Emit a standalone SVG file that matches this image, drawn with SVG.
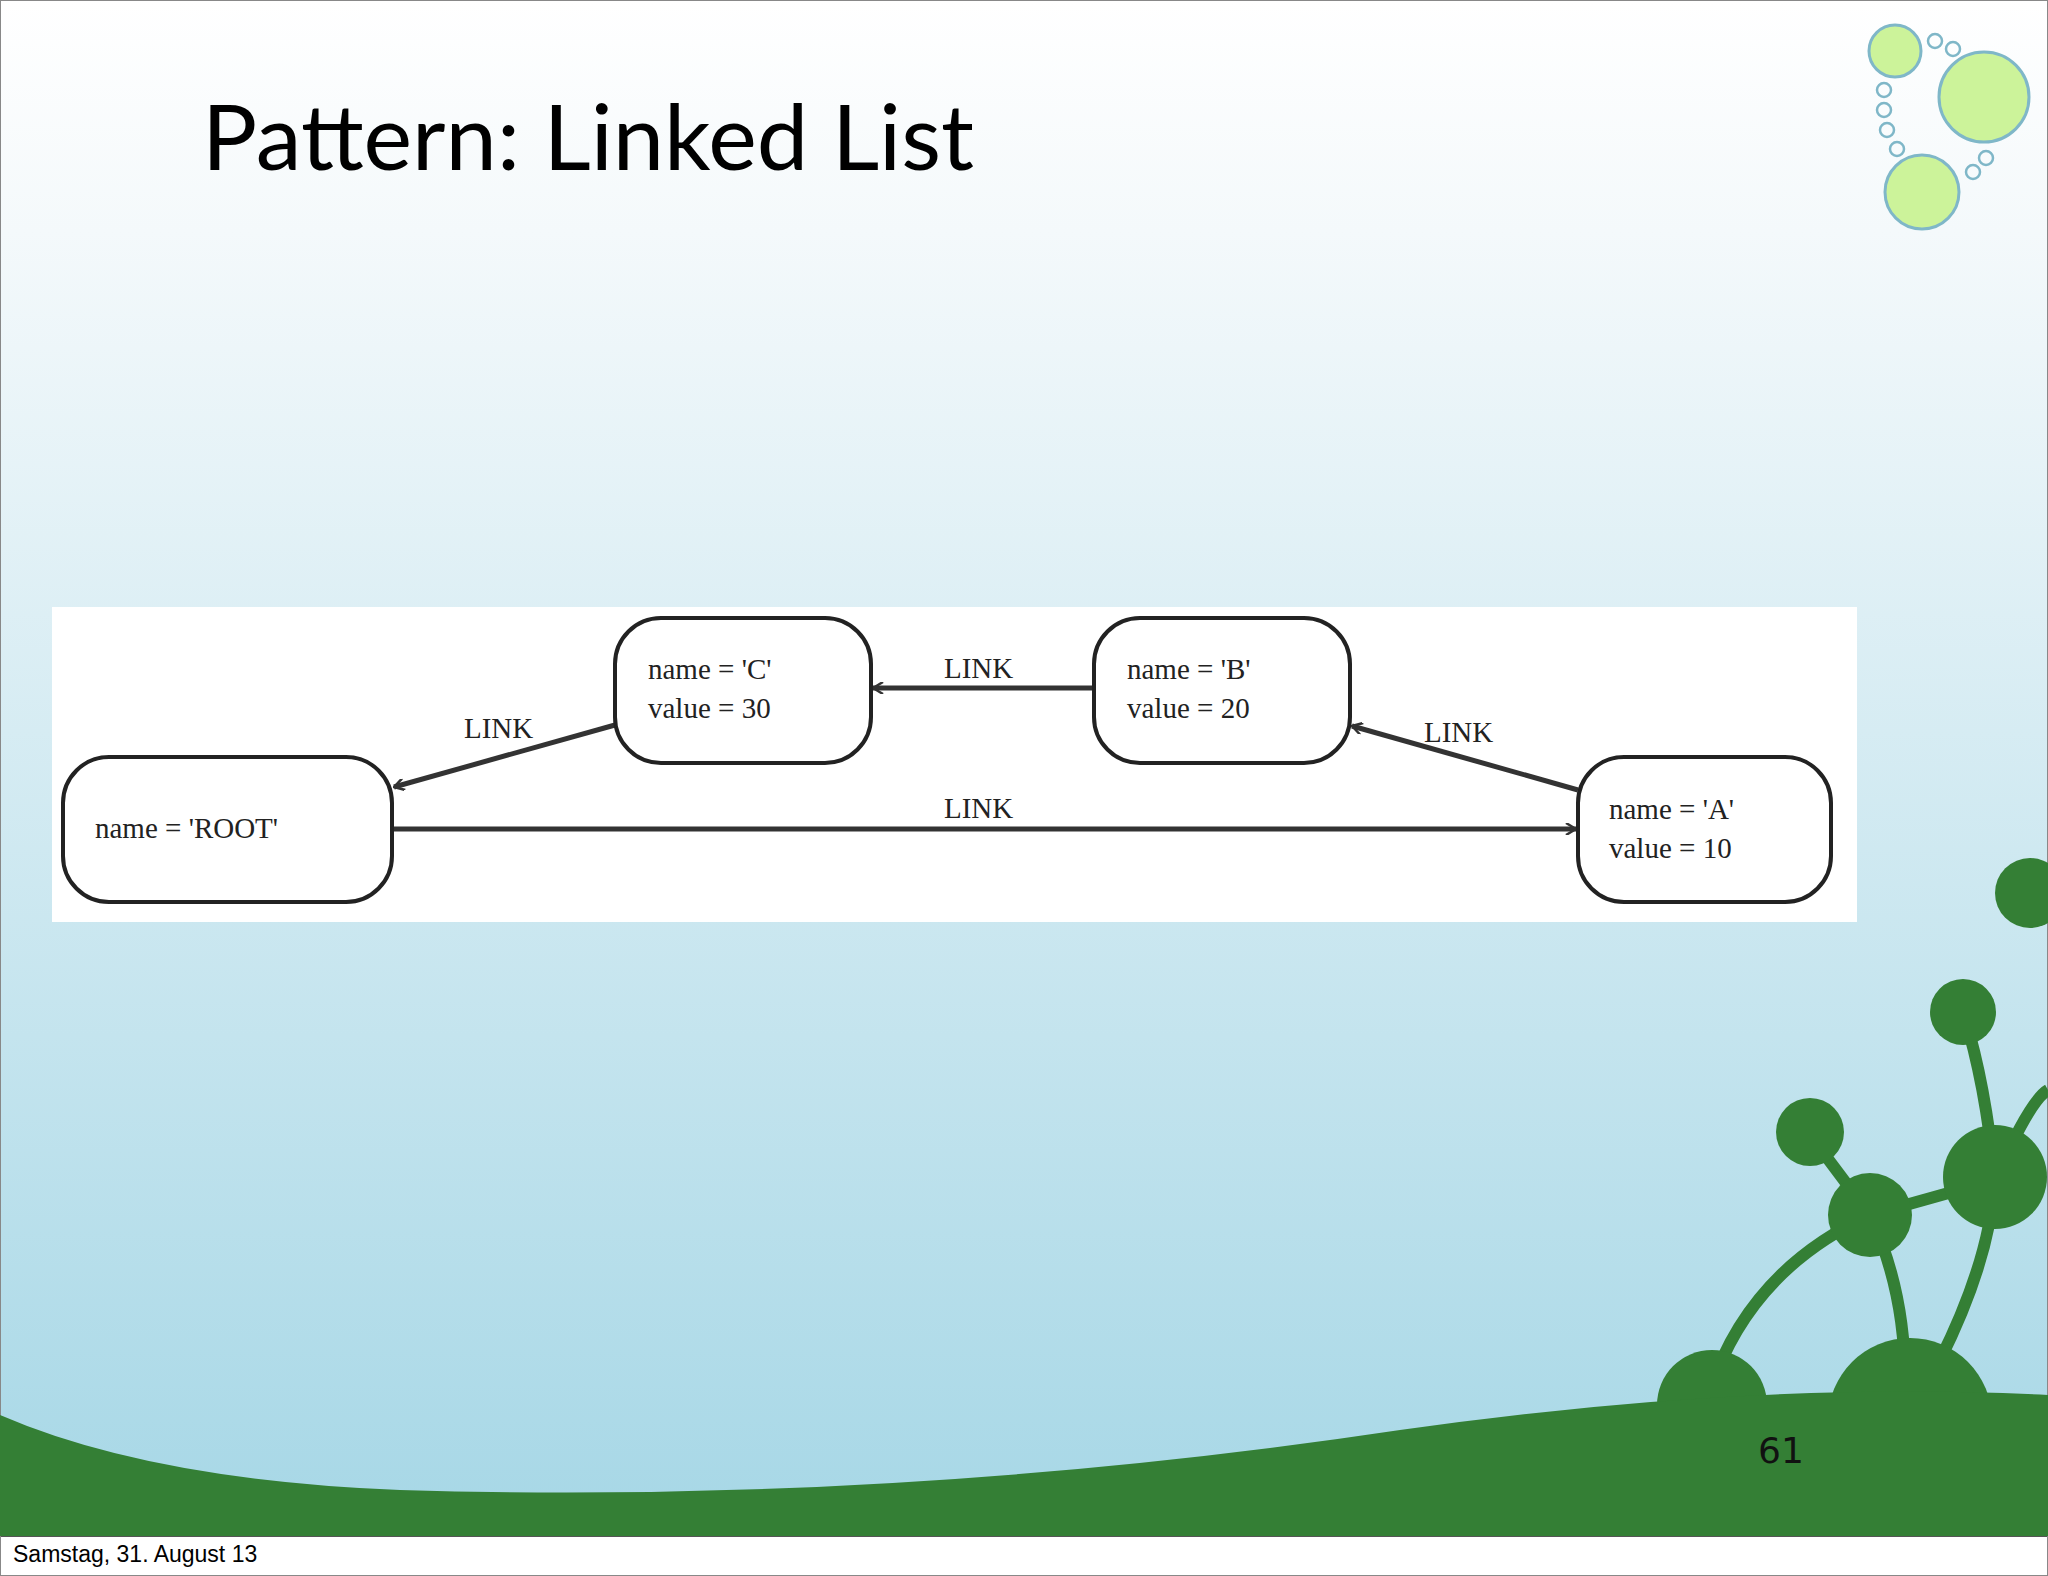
<svg xmlns="http://www.w3.org/2000/svg" width="2048" height="1576" viewBox="0 0 2048 1576">
<defs>
<linearGradient id="bg" x1="0" y1="0" x2="0" y2="1">
<stop offset="0" stop-color="#ffffff"/>
<stop offset="0.15" stop-color="#f4f9fb"/>
<stop offset="1" stop-color="#a6d7e6"/>
</linearGradient>
<marker id="ah" viewBox="0 0 12 12" refX="11" refY="6" markerWidth="12" markerHeight="12" markerUnits="userSpaceOnUse" orient="auto">
<path d="M1,0 L11,6 L1,12" fill="none" stroke="#333" stroke-width="2.5"/>
</marker>
<style>
.node rect{fill:#fff;stroke:#222;stroke-width:4}
.node text,.lbl{font-family:"Liberation Serif",serif;font-size:29px;fill:#222}
.edge{stroke:#333;stroke-width:5;fill:none;marker-end:url(#ah)}
.g{fill:#347f35}
.lg{fill:#ccf39a;stroke:#7fb7c8;stroke-width:3}
.sm{fill:none;stroke:#7fb7c8;stroke-width:2.5}
</style>
</defs>
<rect width="2048" height="1536" fill="url(#bg)"/>
<rect y="1536" width="2048" height="40" fill="#fff"/>
<line x1="0" y1="1536" x2="2048" y2="1536" stroke="#555" stroke-width="2"/>
<rect x="0.5" y="0.5" width="2047" height="1575" fill="none" stroke="#888"/>
<!-- plant decoration -->
<g stroke="#347f35" fill="none" stroke-width="12">
<path d="M1710,1390 Q1750,1270 1870,1215"/>
<path d="M1940,1360 Q1990,1260 1995,1180"/>
<path d="M1905,1380 Q1905,1290 1870,1215"/>
<path d="M1870,1215 L1995,1180"/>
<path d="M1870,1215 L1810,1135"/>
<path d="M1995,1180 Q1985,1080 1963,1012"/>
<path d="M1995,1180 Q2030,1100 2048,1090"/>
</g>
<circle class="g" cx="1870" cy="1215" r="42"/>
<circle class="g" cx="1995" cy="1177" r="52"/>
<circle class="g" cx="1810" cy="1132" r="34"/>
<circle class="g" cx="1963" cy="1012" r="33"/>
<circle class="g" cx="2030" cy="893" r="35"/>
<circle class="g" cx="1712" cy="1405" r="55"/>
<circle class="g" cx="1910" cy="1420" r="82"/>
<path class="g" d="M0,1415 Q150,1480 400,1490 Q900,1505 1400,1430 Q1750,1380 2048,1395 L2048,1536 L0,1536 Z"/>
<!-- top-right bubbles -->
<circle class="lg" cx="1895" cy="51" r="26"/>
<circle class="lg" cx="1984" cy="97" r="45"/>
<circle class="lg" cx="1922" cy="192" r="37"/>
<circle class="sm" cx="1935" cy="41" r="7"/>
<circle class="sm" cx="1953" cy="49" r="7"/>
<circle class="sm" cx="1884" cy="90" r="7"/>
<circle class="sm" cx="1884" cy="110" r="7"/>
<circle class="sm" cx="1887" cy="130" r="7"/>
<circle class="sm" cx="1897" cy="149" r="7"/>
<circle class="sm" cx="1973" cy="172" r="7"/>
<circle class="sm" cx="1986" cy="158" r="7"/>
<text x="202" y="170" font-family="Lato,'Liberation Sans',sans-serif" font-size="92" fill="#000">Pattern: Linked List</text>
<rect x="52" y="607" width="1805" height="315" fill="#fff"/>
<g id="connectors">
<line class="edge" x1="615" y1="725" x2="394" y2="787"/>
<line class="edge" x1="1094" y1="688" x2="873" y2="688"/>
<line class="edge" x1="1578" y1="790" x2="1352" y2="726"/>
<line class="edge" x1="392" y1="829" x2="1576" y2="829"/>
<text class="lbl" x="464" y="738">LINK</text>
<text class="lbl" x="944" y="678">LINK</text>
<text class="lbl" x="1424" y="742">LINK</text>
<text class="lbl" x="944" y="818">LINK</text>
</g>
<g id="nodeC" class="node"><rect x="615" y="618" width="256" height="145" rx="46"/><text x="648" y="679">name = 'C'</text><text x="648" y="718">value = 30</text></g>
<g id="nodeB" class="node"><rect x="1094" y="618" width="256" height="145" rx="46"/><text x="1127" y="679">name = 'B'</text><text x="1127" y="718">value = 20</text></g>
<g id="nodeROOT" class="node"><rect x="63" y="757" width="329" height="145" rx="46"/><text x="95" y="838">name = 'ROOT'</text></g>
<g id="nodeA" class="node"><rect x="1578" y="757" width="253" height="145" rx="46"/><text x="1609" y="819">name = 'A'</text><text x="1609" y="858">value = 10</text></g>
<text x="1758" y="1463" font-family="'DejaVu Sans',sans-serif" font-size="36" fill="#111">61</text>
<text x="13" y="1562" font-family="'Liberation Sans',sans-serif" font-size="23" fill="#000">Samstag, 31. August 13</text>
</svg>
